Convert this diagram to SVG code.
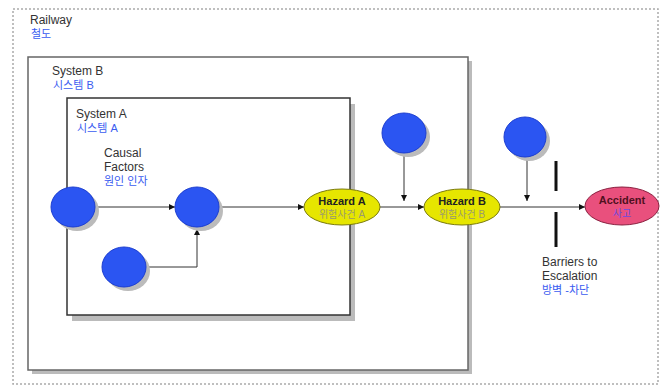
<svg xmlns="http://www.w3.org/2000/svg" width="671" height="389" viewBox="0 0 671 389">
<defs>
<style>
.t{font-family:"Liberation Sans","Noto Sans CJK KR",sans-serif;font-size:12px;fill:#333}
.k{font-family:"Liberation Sans","Noto Sans CJK KR",sans-serif;font-size:11px;fill:#3a5cf0}
.box{fill:#fff;stroke:#333;stroke-width:1.5}
.sh{fill:#bbb}
.c{fill:#2b55f2;stroke:#1c3ed0;stroke-width:1}
.cs{fill:#bbb}
.ln{stroke:#333;stroke-width:1;fill:none}
.bar{stroke:#111;stroke-width:3}
</style>
<marker id="a" viewBox="0 0 6 6" refX="6" refY="3" markerWidth="6" markerHeight="6" orient="auto"><path d="M0,0 L6,3 L0,6 z" fill="#111"/></marker>
</defs>
<rect x="0" y="0" width="671" height="389" fill="#fff"/>
<rect x="13" y="9" width="645" height="375" fill="none" stroke="#aaa" stroke-width="1.5" stroke-dasharray="2 2"/>
<g id="railway">
<text class="t" x="30" y="24">Railway</text>
<text class="k" x="31" y="38">철도</text>
</g>
<g id="systemB">
<rect class="sh" x="32" y="61" width="440" height="313"/>
<rect class="box" x="28" y="57" width="440" height="313" style="stroke:#666"/>
<text class="t" x="52" y="75">System B</text>
<text class="k" x="53" y="89">시스템 B</text>
</g>
<g id="systemA">
<rect class="sh" x="72" y="104" width="283" height="217"/>
<rect class="box" x="67" y="98" width="283" height="217"/>
<text class="t" x="76" y="118">System A</text>
<text class="k" x="77" y="132">시스템 A</text>
<text class="t" x="104" y="157">Causal</text>
<text class="t" x="104" y="171">Factors</text>
<text class="k" x="104" y="185">원인 인자</text>
</g>
<g id="connectors">
<line class="ln" x1="95" y1="207" x2="175" y2="207" marker-end="url(#a)"/>
<polyline class="ln" points="146,267 197,267 197,229" marker-end="url(#a)"/>
<line class="ln" x1="219" y1="207" x2="304" y2="207" marker-end="url(#a)"/>
<line class="ln" x1="380" y1="207" x2="424" y2="207" marker-end="url(#a)"/>
<line class="ln" x1="404" y1="153" x2="404" y2="201" marker-end="url(#a)"/>
<line class="ln" x1="500" y1="207" x2="585" y2="207" marker-end="url(#a)"/>
<line class="ln" x1="527" y1="157" x2="527" y2="201" marker-end="url(#a)"/>
</g>
<g id="cause1"><ellipse class="cs" cx="77" cy="211" rx="22" ry="20"/><ellipse class="c" cx="73" cy="207" rx="22" ry="20"/></g>
<g id="cause2"><ellipse class="cs" cx="201" cy="211" rx="22" ry="20"/><ellipse class="c" cx="197" cy="207" rx="22" ry="20"/></g>
<g id="cause3"><ellipse class="cs" cx="128" cy="271" rx="22" ry="20"/><ellipse class="c" cx="124" cy="267" rx="22" ry="20"/></g>
<g id="cause4"><ellipse class="cs" cx="408" cy="137" rx="22" ry="20"/><ellipse class="c" cx="404" cy="133" rx="22" ry="20"/></g>
<g id="cause5"><ellipse class="cs" cx="529" cy="141" rx="21" ry="20"/><ellipse class="c" cx="525" cy="137" rx="21" ry="20"/></g>
<g id="hazardA">
<ellipse cx="342" cy="207" rx="38" ry="18" fill="#e6e600" stroke="#7a7a10" stroke-width="1"/>
<text class="t" x="342" y="205" text-anchor="middle" font-weight="bold" style="font-size:11px;fill:#222">Hazard A</text>
<text class="t" x="342" y="218" text-anchor="middle" style="font-size:10px;fill:#9a9a70">위험사건 A</text>
</g>
<g id="hazardB">
<ellipse cx="462" cy="207" rx="38" ry="18" fill="#e6e600" stroke="#7a7a10" stroke-width="1"/>
<text class="t" x="462" y="205" text-anchor="middle" font-weight="bold" style="font-size:11px;fill:#222">Hazard B</text>
<text class="t" x="462" y="218" text-anchor="middle" style="font-size:10px;fill:#9a9a70">위험사건 B</text>
</g>
<g id="accident">
<ellipse cx="622" cy="206" rx="37" ry="19" fill="#e9507d" stroke="#8a2040" stroke-width="1"/>
<text class="t" x="622" y="204" text-anchor="middle" font-weight="bold" style="font-size:11px;fill:#501020">Accident</text>
<text class="k" x="622" y="217" text-anchor="middle" style="font-size:10px;fill:#6a4ae0">사고</text>
</g>
<g id="barriers">
<line class="bar" x1="556" y1="161" x2="556" y2="191"/>
<line class="bar" x1="556" y1="212" x2="556" y2="247"/>
<text class="t" x="542" y="266">Barriers to</text>
<text class="t" x="542" y="280">Escalation</text>
<text class="k" x="542" y="294">방벽 -차단</text>
</g>
</svg>
